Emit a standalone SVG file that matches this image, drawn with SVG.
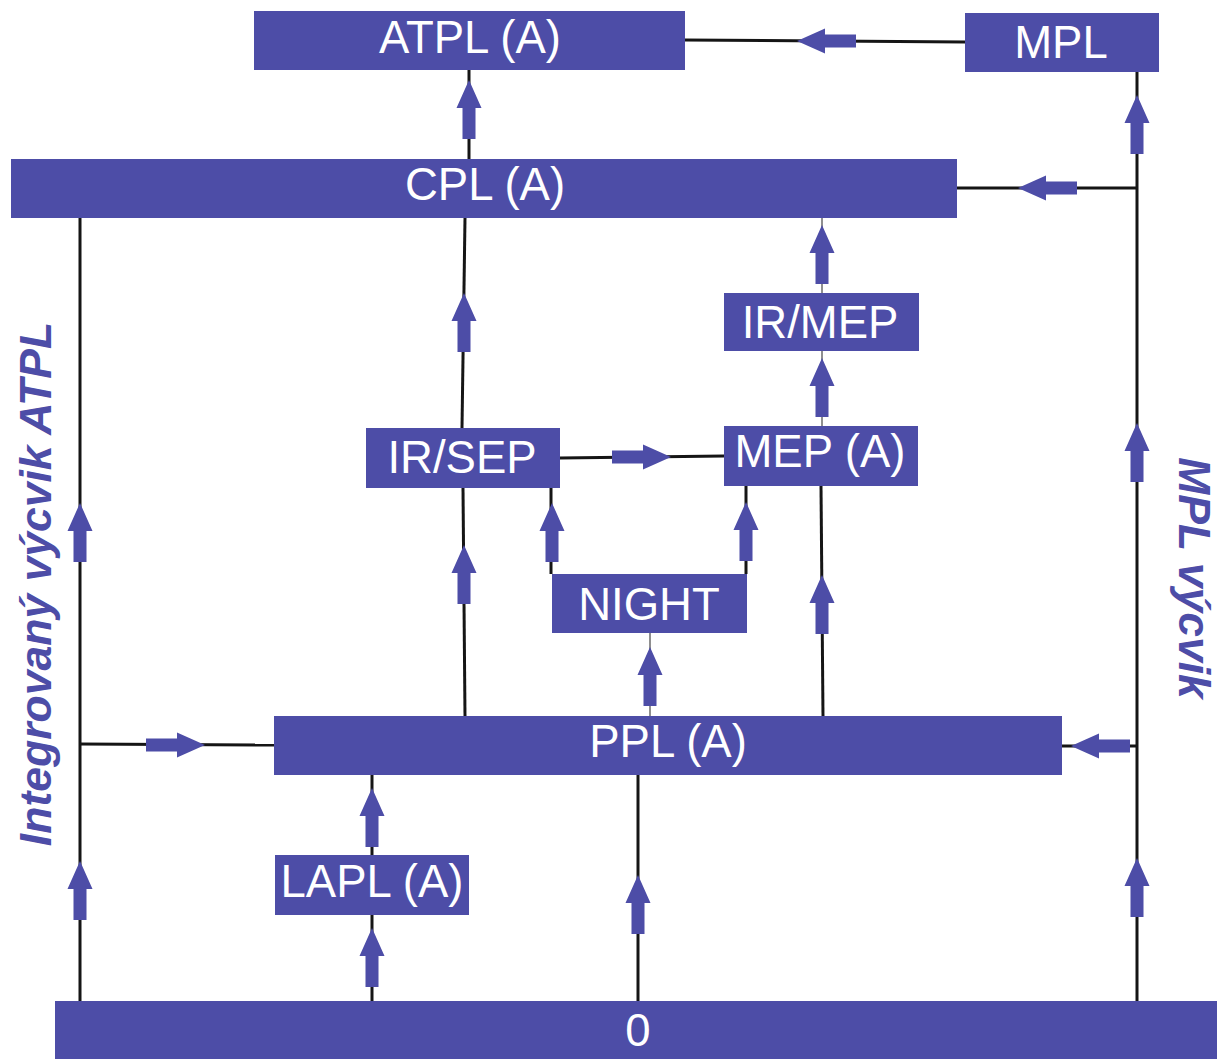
<svg xmlns="http://www.w3.org/2000/svg" xmlns:xlink="http://www.w3.org/1999/xlink" width="1217" height="1059" viewBox="0 0 1217 1059">
<style>
.box{fill:#4D4DA7;}
.lbl{font-family:"Liberation Sans",Arial,sans-serif;font-size:45.5px;fill:#ffffff;text-anchor:middle;}
.side{font-family:"Liberation Sans",Arial,sans-serif;font-size:44.5px;font-weight:bold;font-style:italic;fill:#4D4DA7;text-anchor:middle;}
.ln{stroke:#151515;stroke-width:3;fill:none;}
.thin{stroke:#6a6a6a;stroke-width:1.5;fill:none;}
.ar{fill:#4D4DA7;}
</style>
<defs>
<polygon id="up" points="0,0 12.5,28 6.5,28 6.5,59 -6.5,59 -6.5,28 -12.5,28"/>
</defs>
<rect width="1217" height="1059" fill="#ffffff"/>

<g id="connectors">
<line class="ln" x1="685" y1="40" x2="965" y2="42"/>
<line class="ln" x1="957" y1="188" x2="1137" y2="188"/>
<line class="ln" x1="1062" y1="746" x2="1137" y2="746"/>
<line class="ln" x1="80" y1="218" x2="80" y2="1001"/>
<line class="ln" x1="80" y1="744" x2="274" y2="745"/>
<line class="ln" x1="1137" y1="72" x2="1137" y2="1001"/>
<line class="ln" x1="469" y1="70" x2="469" y2="159"/>
<line class="ln" x1="465" y1="218" x2="462" y2="428"/>
<line class="ln" x1="463" y1="488" x2="465" y2="716"/>
<line class="thin" x1="822" y1="218" x2="822" y2="293"/>
<line class="thin" x1="822" y1="351" x2="822" y2="426"/>
<line class="ln" x1="560" y1="458" x2="724" y2="456"/>
<line class="ln" x1="551" y1="488" x2="551" y2="574"/>
<line class="ln" x1="746" y1="486" x2="746" y2="574"/>
<line class="ln" x1="821" y1="486" x2="823" y2="716"/>
<line class="thin" x1="650" y1="633" x2="650" y2="716"/>
<line class="ln" x1="372" y1="775" x2="372" y2="855"/>
<line class="ln" x1="372" y1="914" x2="372" y2="1001"/>
<line class="ln" x1="638" y1="775" x2="638" y2="1001"/>

<g class="ar">
<use xlink:href="#up" transform="translate(469,80)"/>
<use xlink:href="#up" transform="translate(464,293)"/>
<use xlink:href="#up" transform="translate(822,225)"/>
<use xlink:href="#up" transform="translate(822,358)"/>
<use xlink:href="#up" transform="translate(464,545)"/>
<use xlink:href="#up" transform="translate(552,503)"/>
<use xlink:href="#up" transform="translate(746,502)"/>
<use xlink:href="#up" transform="translate(822,575)"/>
<use xlink:href="#up" transform="translate(650,647)"/>
<use xlink:href="#up" transform="translate(372,788)"/>
<use xlink:href="#up" transform="translate(372,928)"/>
<use xlink:href="#up" transform="translate(638,875)"/>
<use xlink:href="#up" transform="translate(80,503)"/>
<use xlink:href="#up" transform="translate(80,861)"/>
<use xlink:href="#up" transform="translate(1137,95)"/>
<use xlink:href="#up" transform="translate(1137,423)"/>
<use xlink:href="#up" transform="translate(1137,858)"/>
<use xlink:href="#up" transform="translate(797,41) rotate(-90)"/>
<use xlink:href="#up" transform="translate(1018,188) rotate(-90)"/>
<use xlink:href="#up" transform="translate(1071,746) rotate(-90)"/>
<use xlink:href="#up" transform="translate(671,457) rotate(90)"/>
<use xlink:href="#up" transform="translate(205,745) rotate(90)"/>
</g>
</g>

<g id="atpl"><rect class="box" x="254" y="11" width="431" height="59"/><text class="lbl" x="470" y="53">ATPL (A)</text></g>
<g id="mpl"><rect class="box" x="965" y="13" width="194" height="59"/><text class="lbl" x="1061" y="58">MPL</text></g>
<g id="cpl"><rect class="box" x="11" y="159" width="946" height="59"/><text class="lbl" x="485" y="200">CPL (A)</text></g>
<g id="irmep"><rect class="box" x="724" y="293" width="195" height="58"/><text class="lbl" x="820" y="338">IR/MEP</text></g>
<g id="irsep"><rect class="box" x="366" y="428" width="194" height="60"/><text class="lbl" x="462" y="473">IR/SEP</text></g>
<g id="mep"><rect class="box" x="724" y="426" width="194" height="60"/><text class="lbl" x="820" y="467">MEP (A)</text></g>
<g id="night"><rect class="box" x="552" y="574" width="195" height="59"/><text class="lbl" x="649" y="620">NIGHT</text></g>
<g id="ppl"><rect class="box" x="274" y="716" width="788" height="59"/><text class="lbl" x="668" y="757">PPL (A)</text></g>
<g id="lapl"><rect class="box" x="275" y="855" width="194" height="60"/><text class="lbl" x="372" y="897">LAPL (A)</text></g>
<g id="zero"><rect class="box" x="55" y="1001" width="1162" height="58"/><text class="lbl" x="638" y="1046">0</text></g>

<g id="side-labels">
<text class="side" transform="translate(51,584) rotate(-90)">Integrovaný výcvik ATPL</text>
<text class="side" transform="translate(1179,578) rotate(90)">MPL výcvik</text>
</g>
</svg>
